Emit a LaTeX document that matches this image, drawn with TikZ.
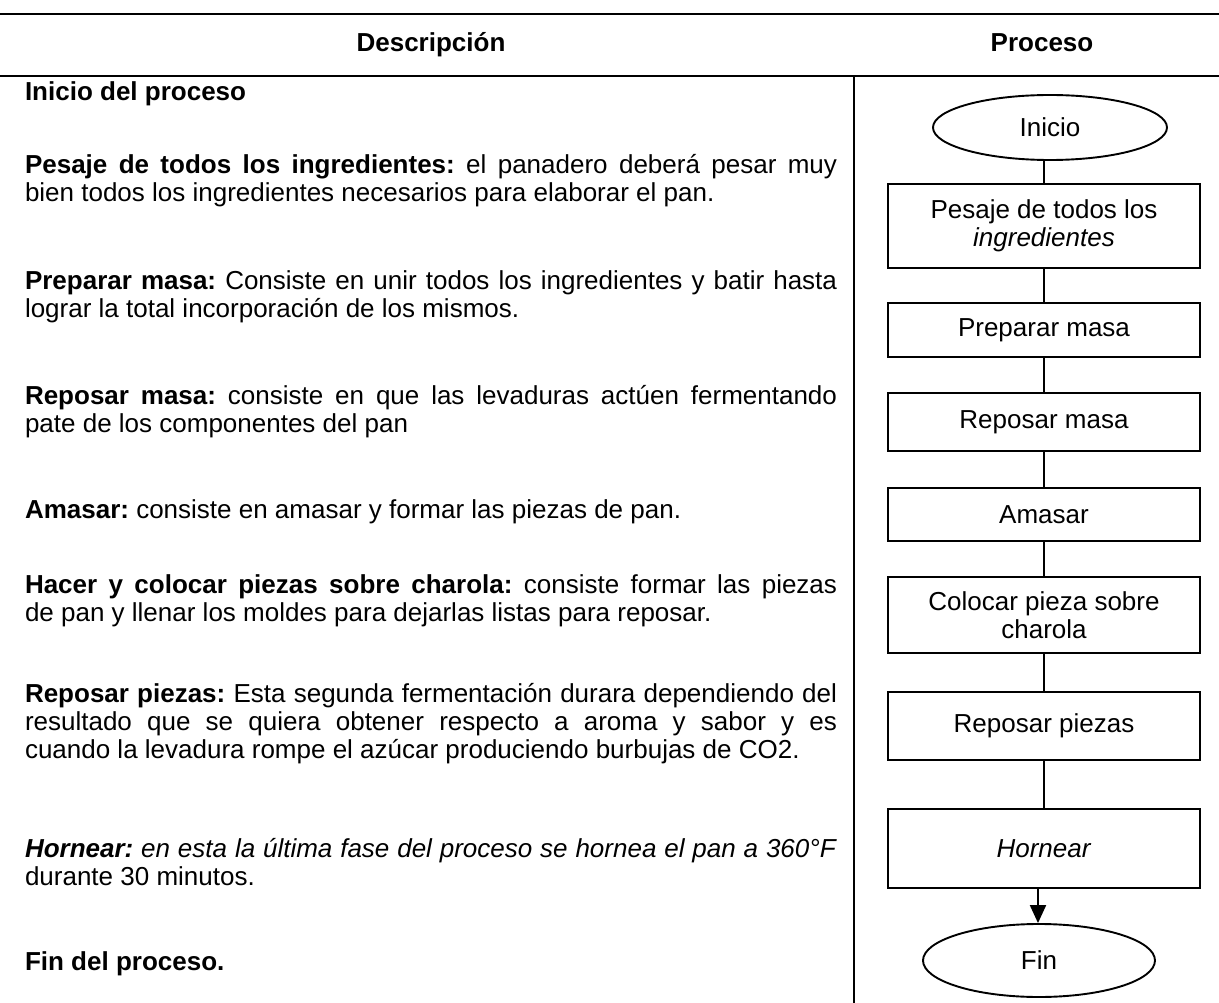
\documentclass[tikz,border=0pt]{standalone}
\usepackage{fontspec}
\setmainfont{Liberation Sans}
\usetikzlibrary{shapes.geometric,arrows.meta,calc}
\begin{document}
\begin{tikzpicture}[x=1pt,y=-1pt,
  txt/.style={font=\fontsize{26pt}{28pt}\selectfont\frenchspacing},
  desc/.style={txt, anchor=base west, text width=812pt, align=justify, inner sep=0pt, outer sep=0pt},
  head/.style={anchor=base, inner sep=0pt, font=\fontsize{26pt}{28pt}\selectfont\bfseries},
  procbox/.style={txt, draw, line width=1.3pt, minimum width=312pt, inner sep=0pt, align=center},
  term/.style={txt, draw, ellipse, line width=1.9pt, inner sep=0pt},
  conn/.style={line width=2pt},
  rule/.style={line width=1.8pt}]
\useasboundingbox (0,0) rectangle (1219,1003);
\fill[white] (0,0) rectangle (1219,1003);

% table rules
\coordinate (rt1) at (0,14);   \coordinate (rt2) at (1219,14);
\coordinate (rh1) at (0,76);   \coordinate (rh2) at (1219,76);
\coordinate (vd1) at (854,76); \coordinate (vd2) at (854,1003);
\draw[rule] (rt1) -- (rt2);
\draw[rule] (rh1) -- (rh2);
\draw[rule] (vd1) -- (vd2);

% headers
\node[head] (hdesc) at (431,52) {Descripción};
\node[head] (hproc) at (1042,52) {Proceso};

% description column
\node[desc] (d1) at (25,101) {\textbf{Inicio del proceso}};
\node[desc] (d2) at (25,174) {\textbf{Pesaje de todos los ingredientes:} el panadero deberá pesar muy\linebreak bien todos los ingredientes necesarios para elaborar el pan.};
\node[desc] (d3) at (25,290) {\textbf{Preparar masa:} Consiste en unir todos los ingredientes y batir hasta\linebreak lograr la total incorporación de los mismos.};
\node[desc] (d4) at (25,404) {\textbf{Reposar masa:} consiste en que las levaduras actúen fermentando\linebreak pate de los componentes del pan};
\node[desc] (d5) at (25,518) {\textbf{Amasar:} consiste en amasar y formar las piezas de pan.};
\node[desc] (d6) at (25,593) {\textbf{Hacer y colocar piezas sobre charola:} consiste formar las piezas\linebreak de pan y llenar los moldes para dejarlas listas para reposar.};
\node[desc] (d7) at (25,702) {\textbf{Reposar piezas:} Esta segunda fermentación durara dependiendo del\linebreak resultado que se quiera obtener respecto a aroma y sabor y es\linebreak cuando la levadura rompe el azúcar produciendo burbujas de CO2.};
\node[desc] (d8) at (25,857) {\textbf{\itshape Hornear:} \textit{en esta la última fase del proceso se hornea el pan a 360°F}\linebreak durante 30 minutos.};
\node[desc] (d9) at (25,970) {\textbf{Fin del proceso.}};

% flowchart
\node[term, minimum width=234pt, minimum height=65pt] (inicio) at (1050,127.5) {Inicio};
\node[procbox, minimum height=84pt] (b1) at (1044,226) {Pesaje de todos los\\\textit{ingredientes}};
\node[procbox, minimum height=54pt] (b2) at (1044,330) {Preparar masa};
\node[procbox, minimum height=58pt] (b3) at (1044,422) {Reposar masa};
\node[procbox, minimum height=53pt] (b4) at (1044,514.5) {Amasar};
\node[procbox, minimum height=76pt] (b5) at (1044,615) {Colocar pieza sobre\\charola};
\node[procbox, minimum height=68pt] (b6) at (1044,726) {Reposar piezas};
\node[procbox, minimum height=79pt] (b7) at (1044,848.5) {\textit{Hornear}};
\node[term, minimum width=232pt, minimum height=73pt] (fin) at (1039,960.5) {Fin};

\draw[conn] (b1.north |- inicio.south) -- (b1.north);
\draw[conn] (b1) -- (b2);
\draw[conn] (b2) -- (b3);
\draw[conn] (b3) -- (b4);
\draw[conn] (b4) -- (b5);
\draw[conn] (b5) -- (b6);
\draw[conn] (b6) -- (b7);
\draw[conn, -{Triangle[length=18pt,width=16pt]}] ($(b7.south)+(-6,0)$) -- ($(fin.north)+(-1,0)$);
\end{tikzpicture}
\end{document}
